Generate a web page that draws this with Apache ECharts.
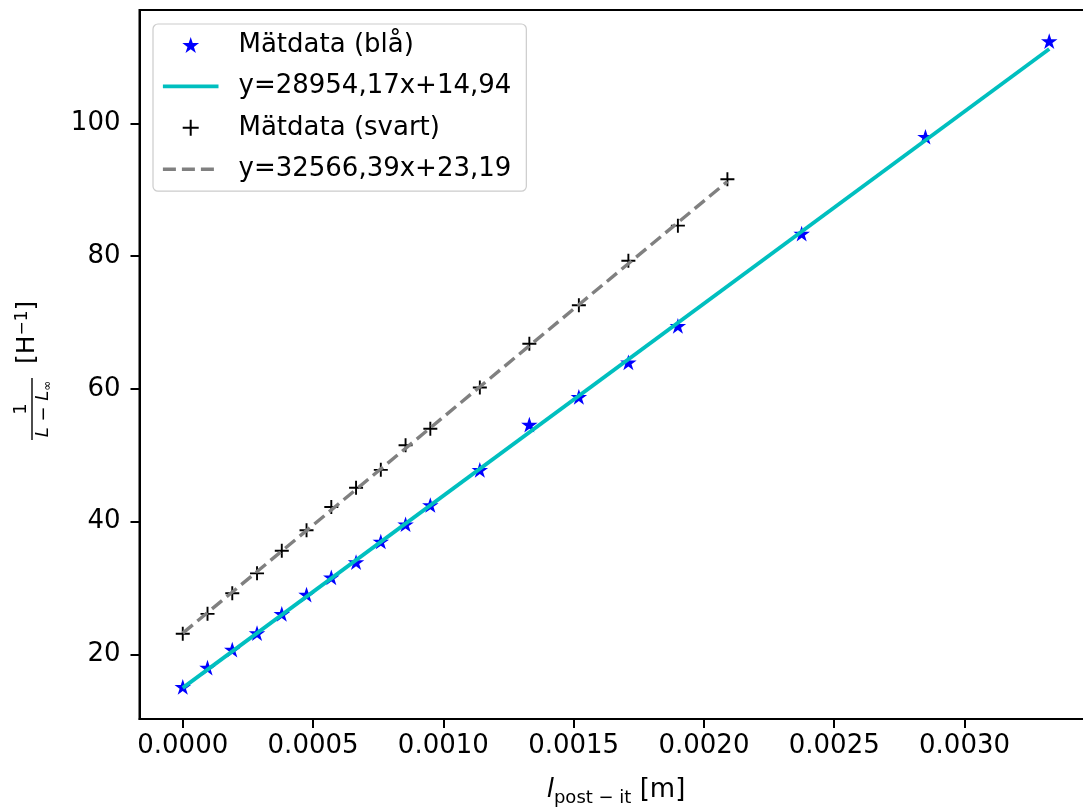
<!DOCTYPE html>
<html>
<head>
<meta charset="utf-8">
<script src="https://cdn.jsdelivr.net/npm/echarts@6/dist/echarts.min.js"></script>
<style>
  html, body { margin: 0; padding: 0; background: #fff; }
  #chart { width: 1083px; height: 810px; }
</style>
</head>
<body>
<div id="chart"></div>
<script>
// mätdata
var xBlue = [0, 0.000095, 0.00019, 0.000285, 0.00038, 0.000475, 0.00057, 0.000665, 0.00076, 0.000855,
  0.00095, 0.00114, 0.00133, 0.00152, 0.00171, 0.0019, 0.002375, 0.00285, 0.003325]
var yBlue = [15.1, 18.0, 20.7, 23.2, 26.1, 29.0, 31.6, 33.9, 37.0, 39.6,
  42.5, 47.8, 54.6, 58.8, 64.0, 69.5, 83.4, 98.0, 112.4]
var xBlack = [0, 0.000095, 0.00019, 0.000285, 0.00038, 0.000475, 0.00057, 0.000665, 0.00076, 0.000855,
  0.00095, 0.00114, 0.00133, 0.00152, 0.00171, 0.0019, 0.00209]
var yBlack = [23.1, 26.1, 29.2, 32.2, 35.6, 38.7, 42.2, 45.1, 47.8, 51.5,
  54.0, 60.2, 66.8, 72.6, 79.3, 84.6, 91.6]
// anpassade linjer (ändpunkter)
var fitBlueX = [0, 0.003325]
var fitBlueY = [14.94, 111.21]
var fitBlackX = [0, 0.00209]
var fitBlackY = [23.19, 91.25]
var xTicks = [0, 0.0005, 0.001, 0.0015, 0.002, 0.0025, 0.003]
var yTicks = [20, 40, 60, 80, 100]
var names = ['Mätdata (blå)', 'y=28954,17x+14,94', 'Mätdata (svart)', 'y=32566,39x+23,19']

function pairs(xs, ys) {
  return xs.map(function (x, i) { return [x, ys[i]] })
}

var font = 'DejaVu Sans'
var star = 'path://M0,-1L-0.2245,-0.309L-0.9511,-0.309L-0.3633,0.118L-0.5878,0.809L0,0.382L0.5878,0.809L0.3633,0.118L0.9511,-0.309L0.2245,-0.309Z'
var plus = 'path://M0,-1L0,1M-1,0L1,0'

var chart = echarts.init(document.getElementById('chart'))
chart.setOption({
  animation: false,
  backgroundColor: '#fff',
  grid: { left: 139.5, top: 10, width: 953, height: 709, show: true, borderColor: '#000', borderWidth: 2,
    outerBoundsMode: 'none', containLabel: false },
  xAxis: {
    type: 'value', min: -0.000166, max: 0.003491,
    axisLine: { show: true, onZero: false, lineStyle: { color: '#000', width: 2 } },
    axisTick: { show: true, length: 9, lineStyle: { color: '#000', width: 2 }, customValues: xTicks },
    axisLabel: { customValues: xTicks, margin: 14, color: '#000', fontFamily: font, fontSize: 26,
      formatter: function (v) { return v.toFixed(4) } },
    splitLine: { show: false },
    name: '{i|l}{sub|post − it}{n| [m]}',
    nameLocation: 'middle', nameGap: 58,
    nameTextStyle: {
      color: '#000', fontFamily: font, fontSize: 26,
      rich: {
        i: { fontStyle: 'italic', fontSize: 26, fontFamily: font, lineHeight: 30, verticalAlign: 'top', color: '#000' },
        sub: { fontSize: 18, fontFamily: font, lineHeight: 19, verticalAlign: 'bottom', color: '#000' },
        n: { fontSize: 26, fontFamily: font, lineHeight: 30, verticalAlign: 'top', color: '#000' }
      }
    }
  },
  yAxis: {
    type: 'value', min: 10.25, max: 117.1,
    axisLine: { show: true, onZero: false, lineStyle: { color: '#000', width: 2 } },
    axisTick: { show: true, length: 9, lineStyle: { color: '#000', width: 2 }, customValues: yTicks },
    axisLabel: { customValues: yTicks, margin: 19, color: '#000', fontFamily: font, fontSize: 26 },
    splitLine: { show: false }
  },
  legend: {
    orient: 'vertical', left: 153, top: 24,
    padding: [6, 15, 7, 8], itemGap: 11.4, itemWidth: 55.6, itemHeight: 16,
    symbolKeepAspect: true,
    backgroundColor: 'rgba(255,255,255,0.8)', borderColor: '#cccccc', borderWidth: 1.2, borderRadius: 5,
    selectedMode: false,
    textStyle: { fontFamily: font, fontSize: 26, color: '#000', lineHeight: 30, padding: [0, 0, 0, 15] },
    data: [
      { name: names[0] },
      { name: names[1], lineStyle: { width: 3.8 } },
      { name: names[2] },
      { name: names[3], lineStyle: { width: 3.4 } }
    ]
  },
  graphic: [{
    type: 'group', x: 32, y: 440, rotation: Math.PI / 2,
    children: [
      { type: 'line', shape: { x1: 0, y1: 0, x2: 62, y2: 0 }, style: { stroke: '#000', lineWidth: 1.4 } },
      { type: 'text', x: 31, y: -2, style: { text: '1', font: '18px "DejaVu Sans"', fill: '#000',
        textAlign: 'center', textVerticalAlign: 'bottom' } },
      { type: 'text', x: 31, y: 2, style: {
        text: '{i|L} − {i|L}{s|∞}', fill: '#000', textAlign: 'center', textVerticalAlign: 'top',
        font: '18px "DejaVu Sans"',
        rich: {
          i: { fontStyle: 'italic', fontSize: 18, fontFamily: font, lineHeight: 20, verticalAlign: 'top' },
          s: { fontSize: 12, fontFamily: font, lineHeight: 13, verticalAlign: 'bottom' }
        } } },
      { type: 'text', x: 76, y: -5, style: {
        text: '[H{s|−1}]', fill: '#000', textAlign: 'left', textVerticalAlign: 'middle',
        font: '25px "DejaVu Sans"',
        rich: {
          s: { fontSize: 17, fontFamily: font, lineHeight: 17, verticalAlign: 'top' }
        } } }
    ]
  }],
  series: [
    {
      name: names[0], type: 'scatter', data: pairs(xBlue, yBlue), z: 2,
      symbol: star, symbolSize: 16.5, symbolKeepAspect: true,
      itemStyle: { color: '#0000ff', opacity: 1 }
    },
    {
      name: names[1], type: 'line', data: pairs(fitBlueX, fitBlueY), z: 3,
      symbol: 'circle', showSymbol: false,
      lineStyle: { color: '#00bfbf', width: 3.8 },
      itemStyle: { color: 'rgba(0,0,0,0)', borderColor: 'rgba(0,0,0,0)', borderWidth: 0 }
    },
    {
      name: names[2], type: 'scatter', data: pairs(xBlack, yBlack), z: 4,
      symbol: plus, symbolSize: 14, symbolKeepAspect: true,
      itemStyle: { color: '#000', borderColor: '#000', borderWidth: 1.9, opacity: 1 }
    },
    {
      name: names[3], type: 'line', data: pairs(fitBlackX, fitBlackY), z: 5,
      symbol: 'circle', showSymbol: false,
      lineStyle: { color: '#808080', width: 3.4, type: [13, 6] },
      itemStyle: { color: 'rgba(0,0,0,0)', borderColor: 'rgba(0,0,0,0)', borderWidth: 0 }
    }
  ]
})
</script>
</body>
</html>
